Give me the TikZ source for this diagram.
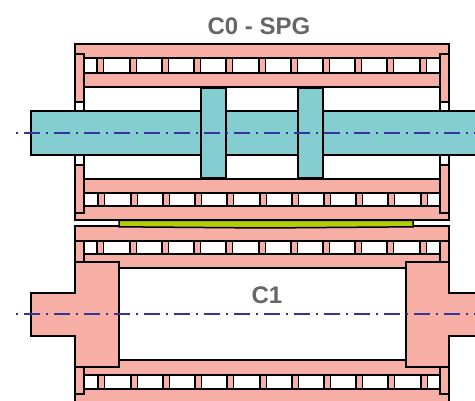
\documentclass[tikz,border=0pt]{standalone}
\usepackage{fontspec}
\setmainfont{Liberation Sans}
\definecolor{gearpink}{HTML}{F7AFA5}
\definecolor{shaftteal}{HTML}{84CDD0}
\definecolor{padgreen}{HTML}{B4CC00}
\definecolor{axisblue}{HTML}{34349A}
\definecolor{labelgrey}{HTML}{666666}
\tikzset{
    part/.style={draw=black, line width=1.5pt, fill=gearpink},
    shaft/.style={draw=black, line width=1.5pt, fill=shaftteal},
    pad/.style={draw=black, line width=1.5pt, fill=padgreen},
    gap/.style={draw=black, line width=1.5pt, fill=white},
    axis/.style={axisblue, line width=1.3pt, dash pattern=on 2pt off 6pt on 16pt off 6pt},
    title/.style={text=labelgrey, font=\bfseries\fontsize{24}{24}\selectfont, inner sep=0pt}
}

\begin{document}
\begin{tikzpicture}[x=1pt,y=-1pt]
            \useasboundingbox (0,0) rectangle (475,401);

            \foreach \rtop/\rbot/\rshift in {58/73/0, 193/206/1, 241/254/0, 375/389/1} {
                \draw[gap] (84,\rtop) rectangle (440,\rbot);
                \foreach \x in {97,130,162,194,226,259,291,323,355,387,420} {
                    \draw[part] (\x+\rshift,\rtop) rectangle (\x+\rshift+6.5,\rbot);
                }
            }

            \draw[part] (75,44) rectangle (449,58);
            \draw[part] (84,73) rectangle (440,87);
            \draw[part] (84,179) rectangle (440,193);
            \draw[part] (75,206) rectangle (449,220);
            \draw[part] (75,226) rectangle (449,241);
            \draw[part] (84,254) rectangle (440,268);
            \draw[part] (84,360) rectangle (440,375);
            \draw[part] (75,389) rectangle (449,405);

            \draw[gap] (75,102) rectangle (84,111);
            \draw[gap] (440,102) rectangle (449,111);
            \draw[gap] (75,155) rectangle (84,165);
            \draw[gap] (440,155) rectangle (449,165);
            \draw[part] (75,54) rectangle (84,102);
            \draw[part] (440,54) rectangle (449,102);
            \draw[part] (75,165) rectangle (84,213);
            \draw[part] (440,165) rectangle (449,213);
            \draw[part] (75,241) rectangle (84,262);
            \draw[part] (440,241) rectangle (449,262);
            \draw[part] (75,367) rectangle (84,394);
            \draw[part] (440,367) rectangle (449,394);

            \draw[pad] (119,220.5) -- (413,220.5) -- (413,226.8) -- (265,228) -- (119,226.8) -- cycle;

            \draw[shaft] (31,111) rectangle (480,155);
            \draw[shaft] (201,88) rectangle (226,178);
            \draw[shaft] (298,88) rectangle (323,178);

            \draw[part] (75,262) -- (119,262) -- (119,367) -- (75,367) -- (75,336) -- (31,336) -- (31,293) -- (75,293) -- cycle;
            \draw[part] (449,262) -- (406,262) -- (406,367) -- (449,367) -- (449,336) -- (480,336) -- (480,293) -- (449,293) -- cycle;

            \node[title] (C0) at (259,26) {C0 - SPG};
            \node[title] (C1) at (267,295) {C1};

            \coordinate (topaxisL) at (16,133);
            \coordinate (topaxisR) at (475,133);
            \coordinate (lowaxisL) at (16,314);
            \coordinate (lowaxisR) at (475,314);
            \draw[axis] (topaxisL) -- (topaxisR);
            \draw[axis] (lowaxisL) -- (lowaxisR);
\end{tikzpicture}
\end{document}
